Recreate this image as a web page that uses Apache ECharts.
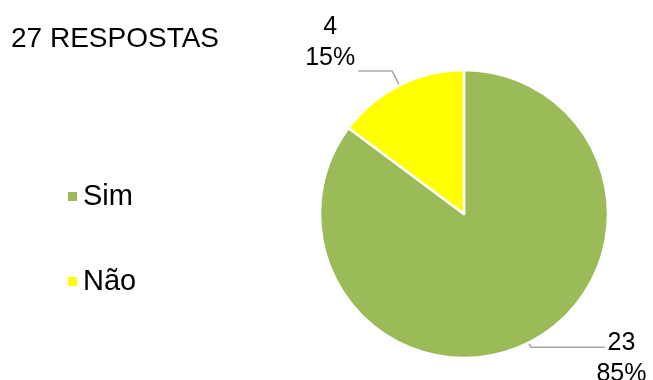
<!DOCTYPE html>
<html>
<head>
<meta charset="utf-8">
<script src="https://cdn.jsdelivr.net/npm/echarts@6/dist/echarts.min.js"></script>
<style>
  html, body { margin: 0; padding: 0; background: #fff; }
  #main { width: 653px; height: 380px; }
</style>
</head>
<body>
<div id="main"></div>
<script>
const titleText = "27 RESPOSTAS";
const categories = ["Sim", "Não"];
const values = [23, 4];
const colors = ["#9BBB59", "#FFFF00"];

const font = "'Liberation Sans', Arial, sans-serif";

const chart = echarts.init(document.getElementById("main"), null, {
  renderer: "canvas",
});

// per-slice leader line / label tweaks
const labelTweaks = [
  { length: 5, length2: 74, dist: -5, padding: [22, 0, 0, 0] },
  { length: 16, length2: 34, dist: 2, padding: [0, 0, 56, 0] },
];

const option = {
  backgroundColor: "#fff",
  animation: false,
  title: {
    text: titleText,
    left: 11,
    top: 25,
    padding: 0,
    textStyle: {
      color: "#000",
      fontWeight: "normal",
      fontSize: 28,
      fontFamily: font,
    },
  },
  legend: {
    orient: "vertical",
    left: 66,
    top: 182,
    padding: 0,
    itemWidth: 11,
    itemHeight: 11,
    itemGap: 56,
    icon: "rect",
    data: categories,
    textStyle: {
      color: "#000",
      fontSize: 29,
      fontFamily: font,
    },
  },
  series: [
    {
      type: "pie",
      center: [464, 214],
      radius: 144,
      startAngle: 90,
      clockwise: true,
      percentPrecision: 0,
      data: categories.map((name, i) => ({
        name,
        value: values[i],
        itemStyle: { color: colors[i] },
        label: {
          distanceToLabelLine: labelTweaks[i].dist,
          padding: labelTweaks[i].padding,
        },
        labelLine: {
          length: labelTweaks[i].length,
          length2: labelTweaks[i].length2,
        },
      })),
      itemStyle: {
        borderColor: "#fff",
        borderWidth: 2.5,
      },
      label: {
        show: true,
        position: "outside",
        overflow: "none",
        formatter: "{v|{c}}\n{v|{d}%}",
        rich: {
          v: {
            color: "#000",
            fontSize: 25,
            lineHeight: 31,
            fontFamily: font,
            width: 52,
            align: "center",
          },
        },
      },
      labelLine: {
        show: true,
        lineStyle: { color: "#A6A6A6", width: 1.5 },
      },
      emphasis: { disabled: true },
    },
  ],
};

chart.setOption(option);
</script>
</body>
</html>
